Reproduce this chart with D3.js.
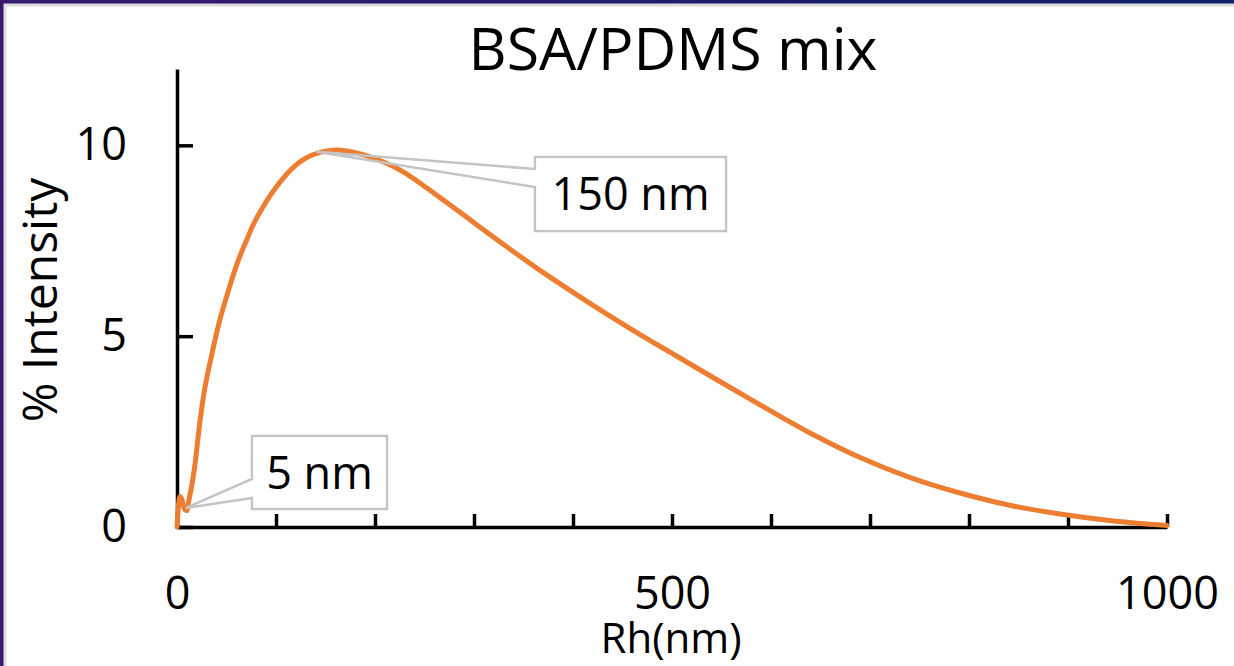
<!DOCTYPE html>
<html>
<head>
<meta charset="utf-8">
<script src="https://cdn.jsdelivr.net/npm/d3@7"></script>
<style>
  html, body { margin: 0; padding: 0; background: #fff; }
  svg { display: block; font-family: 'Open Sans', 'Liberation Sans', sans-serif; }
</style>
</head>
<body>
<div id="chart"></div>
<script>
// DLS size distribution
const rh = [0, 1, 2, 3, 4.5, 6, 8, 10, 12, 15, 18, 21.5, 26.6, 35, 43, 52, 60, 70, 77, 85,
  94, 103, 111, 120, 128, 136, 144, 153, 161, 170, 178, 195, 210, 229, 245, 262, 280, 296,
  313, 330, 363, 397, 431, 464, 498, 538, 589, 639, 690, 740, 791, 841, 892, 942, 970, 1000]
const intensity = [0, 0.4, 0.7, 0.8, 0.75, 0.6, 0.45, 0.43, 0.7, 1.1, 1.6, 2.4, 3.4, 4.5, 5.4, 6.2, 6.85, 7.5, 7.92, 8.3,
  8.68, 9.0, 9.25, 9.48, 9.63, 9.74, 9.81, 9.86, 9.88, 9.86, 9.82, 9.7, 9.55, 9.3, 9.02, 8.7, 8.36, 8.05,
  7.72, 7.4, 6.79, 6.2, 5.63, 5.1, 4.58, 3.97, 3.2, 2.47, 1.82, 1.3, 0.89, 0.57, 0.34, 0.17, 0.1, 0.04]

const xTicks = [0, 100, 200, 300, 400, 500, 600, 700, 800, 900, 1000]
const xTickLabels = { 0: '0', 500: '500', 1000: '1000' }
const yTicks = [0, 5, 10]

// callouts: label, data point the wedge points at
const callouts = [
  { label: '5 nm', rh: 9, value: 0.5 },
  { label: '150 nm', rh: 141, value: 9.83 }
]
const calloutBoxes = [
  { x: 252, y: 436, w: 135, h: 73, a1: 479, a2: 498 },
  { x: 535, y: 157, w: 191, h: 74, a1: 169, a2: 187 }
]

const W = 1234, H = 666
const LINE_COLOR = '#ed7d31'

const svg = d3.select('#chart').append('svg')
  .attr('width', W)
  .attr('height', H)

// slide frame
const grad = svg.append('defs').append('linearGradient')
  .attr('id', 'frameGrad').attr('x1', 0).attr('x2', 1).attr('y1', 0).attr('y2', 0)
grad.append('stop').attr('offset', '0%').attr('stop-color', '#361a6e')
grad.append('stop').attr('offset', '100%').attr('stop-color', '#0e1f6a')

svg.append('rect').attr('width', W).attr('height', H).attr('fill', '#fff')
svg.append('rect').attr('x', 3).attr('y', 3).attr('width', W).attr('height', 3.5).attr('fill', '#dcdcdc')
svg.append('rect').attr('x', 3).attr('y', 3).attr('width', 3.5).attr('height', H).attr('fill', '#dcdcdc')
svg.append('rect').attr('width', W).attr('height', 3.5).attr('fill', 'url(#frameGrad)')
svg.append('rect').attr('width', 3.5).attr('height', H).attr('fill', '#361a6e')

const x = d3.scaleLinear().domain([0, 1000]).range([177, 1167])
const y = d3.scaleLinear().domain([0, 12]).range([527, 69])

// Axes
const xAxis = svg.append('g')
  .attr('transform', `translate(0,${y(0)})`)
  .call(d3.axisBottom(x).tickValues(xTicks).tickSize(-13).tickSizeOuter(0)
    .tickFormat(d => xTickLabels[d] || '').tickPadding(50))
xAxis.select('.domain').attr('stroke', '#000').attr('stroke-width', 3.5)
xAxis.selectAll('.tick line').attr('stroke', '#000').attr('stroke-width', 3.5)
xAxis.selectAll('.tick text')
  .attr('fill', '#000').attr('font-size', '45px')
  .attr('font-family', "'Open Sans', sans-serif")
  .attr('dy', '0.71em')

const yAxis = svg.append('g')
  .attr('transform', `translate(${x(0)},0)`)
  .call(d3.axisLeft(y).tickValues(yTicks).tickSize(-16).tickSizeOuter(0).tickPadding(50))
yAxis.select('.domain').attr('stroke', '#000').attr('stroke-width', 3.5)
yAxis.selectAll('.tick line').attr('stroke', '#000').attr('stroke-width', 3.5)
yAxis.selectAll('.tick text')
  .attr('fill', '#000').attr('font-size', '45px')
  .attr('font-family', "'Open Sans', sans-serif")

// Title
svg.append('text')
  .attr('x', 673).attr('y', 70)
  .attr('text-anchor', 'middle')
  .attr('font-size', '59px')
  .attr('fill', '#000')
  .text('BSA/PDMS mix')

// Axis labels
svg.append('text')
  .attr('x', 671).attr('y', 653)
  .attr('text-anchor', 'middle')
  .attr('font-size', '42px')
  .attr('fill', '#000')
  .text('Rh(nm)')

svg.append('text')
  .attr('transform', 'translate(57,300) rotate(-90)')
  .attr('text-anchor', 'middle')
  .attr('font-size', '48px')
  .attr('fill', '#000')
  .text('% Intensity')

// Distribution curve
const points = rh.map((r, i) => ({ r, v: intensity[i] }))
const line = d3.line().x(d => x(d.r)).y(d => y(d.v)).curve(d3.curveMonotoneX)

svg.append('path')
  .datum(points)
  .attr('fill', 'none')
  .attr('stroke', LINE_COLOR)
  .attr('stroke-width', 5)
  .attr('stroke-linejoin', 'round')
  .attr('stroke-linecap', 'round')
  .attr('d', line)

// Callouts
callouts.forEach((c, i) => {
  const b = calloutBoxes[i]
  const tx = x(c.rh), ty = y(c.value)
  const p = d3.path()
  p.moveTo(b.x, b.a1)
  p.lineTo(b.x, b.y)
  p.lineTo(b.x + b.w, b.y)
  p.lineTo(b.x + b.w, b.y + b.h)
  p.lineTo(b.x, b.y + b.h)
  p.lineTo(b.x, b.a2)
  p.lineTo(tx, ty)
  p.closePath()
  svg.append('path')
    .attr('d', p.toString())
    .attr('fill', 'none')
    .attr('stroke', '#c4c4c4')
    .attr('stroke-width', 2.5)
    .attr('stroke-linejoin', 'miter')
  svg.append('rect')
    .attr('x', b.x + 1.5).attr('y', b.y + 1.5)
    .attr('width', b.w - 3).attr('height', b.h - 3)
    .attr('fill', '#fff')
  svg.append('text')
    .attr('x', b.x + b.w / 2)
    .attr('y', b.y + b.h / 2 + 16)
    .attr('text-anchor', 'middle')
    .attr('font-size', '45px')
    .attr('fill', '#000')
    .text(c.label)
})
</script>
</body>
</html>
